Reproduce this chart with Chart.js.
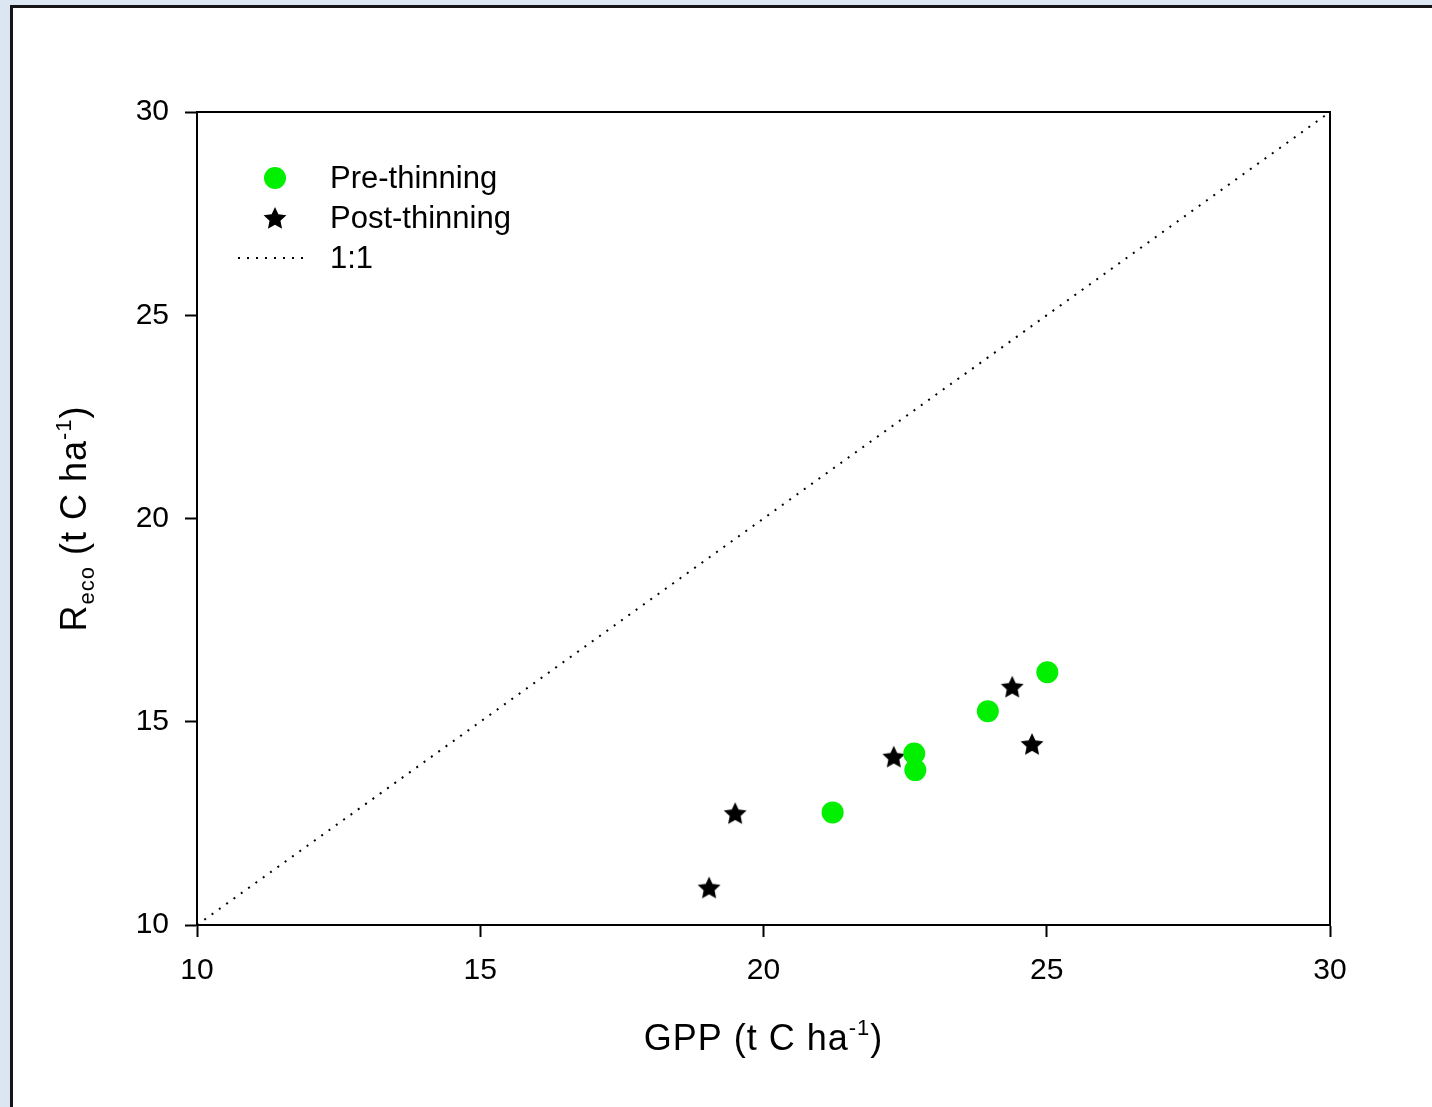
<!DOCTYPE html>
<html>
<head>
<meta charset="utf-8">
<script src="https://cdn.jsdelivr.net/npm/chart.js@4.4.1/dist/chart.umd.min.js"></script>
<style>
  html, body { margin: 0; padding: 0; background: #dce6f2; }
  #wrap { width: 1432px; height: 1107px; }
</style>
</head>
<body>
<div id="wrap"><canvas id="chart" width="1432" height="1107"></canvas></div>
<script>
// values (t C ha-1)
const preGpp = [21.22, 22.66, 22.68, 23.96, 25.01];
const preReco = [12.77, 14.22, 13.81, 15.26, 16.22];
const postGpp = [19.04, 19.50, 22.30, 24.39, 24.74];
const postReco = [10.92, 12.75, 14.14, 15.86, 14.45];
const oneToOne = [10, 30];
const axisMin = 10, axisMax = 30, axisStep = 5;

const FONT = '"Liberation Sans", Arial, sans-serif';

// filled five point star used as the point style
function makeStar(size) {
  const c = document.createElement('canvas');
  c.width = size; c.height = size;
  const g = c.getContext('2d');
  const cx = size / 2, cy = size / 2 + 1;
  const outer = size / 2 - 1, inner = outer * 0.48;
  g.beginPath();
  for (let i = 0; i < 10; i++) {
    const r = i % 2 === 0 ? outer : inner;
    const a = -Math.PI / 2 + i * Math.PI / 5;
    g.lineTo(cx + r * Math.cos(a), cy + r * Math.sin(a));
  }
  g.closePath();
  g.fillStyle = '#000';
  g.fill();
  return c;
}
const star = makeStar(26);

function toPoints(xs, ys) {
  return xs.map((x, i) => ({ x: x, y: ys[i] }));
}

// draw text made of normal / superscript / subscript parts
function richText(ctx, parts, x, y, size) {
  const small = Math.round(size * 0.62);
  ctx.letterSpacing = '1px';
  let total = 0;
  parts.forEach(p => {
    ctx.font = (p.s ? small : size) + 'px ' + FONT;
    total += ctx.measureText(p.t).width;
  });
  let cx = x - total / 2;
  ctx.textBaseline = 'alphabetic';
  ctx.textAlign = 'left';
  parts.forEach(p => {
    ctx.font = (p.s ? small : size) + 'px ' + FONT;
    const dy = p.s === 1 ? -size * 0.42 : (p.s === -1 ? size * 0.22 : 0);
    ctx.fillText(p.t, cx, y + dy);
    cx += ctx.measureText(p.t).width;
  });
  ctx.letterSpacing = '0px';
}

const framePlugin = {
  id: 'frame',
  beforeDraw(chart) {
    const ctx = chart.ctx;
    ctx.save();
    ctx.fillStyle = '#dce6f2';
    ctx.fillRect(0, 0, chart.width, chart.height);
    ctx.fillStyle = '#ffffff';
    ctx.fillRect(11, 5, chart.width - 11, chart.height - 5);
    ctx.strokeStyle = '#151515';
    ctx.lineWidth = 3;
    ctx.beginPath();
    ctx.moveTo(11.5, chart.height);
    ctx.lineTo(11.5, 6.5);
    ctx.lineTo(chart.width, 6.5);
    ctx.stroke();
    ctx.restore();
  },
  afterDraw(chart) {
    const ctx = chart.ctx;
    const a = chart.chartArea;
    ctx.save();
    // box around plot
    ctx.strokeStyle = '#000';
    ctx.lineWidth = 2;
    ctx.strokeRect(a.left, a.top, a.right - a.left, a.bottom - a.top);

    // axis titles
    ctx.fillStyle = '#000';
    richText(ctx, [{ t: 'GPP (t C ha' }, { t: '-1', s: 1 }, { t: ')' }], (a.left + a.right) / 2, 1050, 36);
    ctx.save();
    ctx.translate(86, (a.top + a.bottom) / 2);
    ctx.rotate(-Math.PI / 2);
    richText(ctx, [{ t: 'R' }, { t: 'eco', s: -1 }, { t: ' (t C ha' }, { t: '-1', s: 1 }, { t: ')' }], 0, 0, 36);
    ctx.restore();

    // legend
    const rows = [178, 218, 258];
    chart.data.datasets.forEach((ds, i) => {
      const y = rows[i];
      if (ds.pointStyle === 'circle') {
        ctx.fillStyle = ds.backgroundColor;
        ctx.beginPath();
        ctx.arc(275, y, 11, 0, Math.PI * 2);
        ctx.fill();
      } else if (ds.showLine) {
        ctx.strokeStyle = '#000';
        ctx.lineWidth = 2;
        ctx.setLineDash(ds.borderDash);
        ctx.beginPath();
        ctx.moveTo(238, y);
        ctx.lineTo(308, y);
        ctx.stroke();
        ctx.setLineDash([]);
      } else {
        ctx.drawImage(ds.pointStyle, 275 - star.width / 2, y - star.height / 2);
      }
      ctx.fillStyle = '#000';
      ctx.font = '31px ' + FONT;
      ctx.textAlign = 'left';
      ctx.textBaseline = 'middle';
      ctx.fillText(ds.label, 330, y + 1);
    });
    ctx.restore();
  }
};

const axisStyle = {
  type: 'linear',
  min: axisMin,
  max: axisMax,
  ticks: {
    stepSize: axisStep,
    color: '#000',
    font: { family: FONT, size: 30 },
    padding: 16
  },
  grid: {
    drawOnChartArea: false,
    drawTicks: true,
    tickLength: 12,
    tickWidth: 2,
    tickColor: '#000'
  },
  border: { color: '#000', width: 2 }
};

new Chart(document.getElementById('chart'), {
  type: 'scatter',
  data: {
    datasets: [
      {
        label: 'Pre-thinning',
        data: toPoints(preGpp, preReco),
        pointStyle: 'circle',
        pointRadius: 11,
        backgroundColor: '#00f000',
        borderColor: '#00f000',
        borderWidth: 0
      },
      {
        label: 'Post-thinning',
        data: toPoints(postGpp, postReco),
        pointStyle: star,
        pointRadius: 13
      },
      {
        label: '1:1',
        data: toPoints(oneToOne, oneToOne),
        showLine: true,
        pointRadius: 0,
        borderColor: '#000',
        borderWidth: 2,
        borderDash: [2, 7]
      }
    ]
  },
  options: {
    responsive: false,
    animation: false,
    devicePixelRatio: 1,
    layout: { padding: { top: 112, right: 102, left: 0, bottom: 0 } },
    plugins: { legend: { display: false }, tooltip: { enabled: false } },
    scales: {
      x: Object.assign({}, axisStyle, {
        afterFit: s => { s.height = 182; }
      }),
      y: Object.assign({}, axisStyle, {
        afterFit: s => { s.width = 197; }
      })
    }
  },
  plugins: [framePlugin]
});
</script>
</body>
</html>
